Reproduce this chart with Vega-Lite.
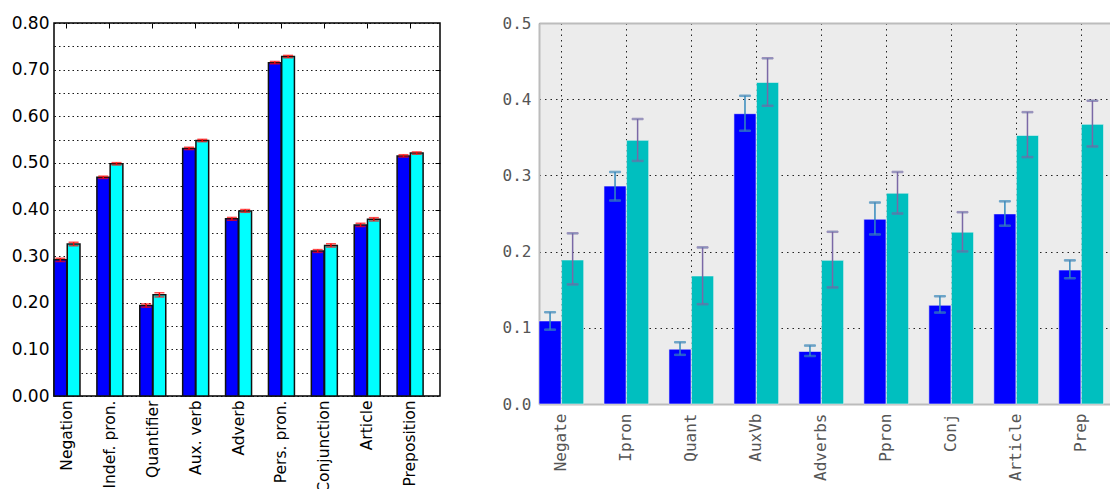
{
  "$schema": "https://vega.github.io/schema/vega-lite/v6.json",
  "padding": {"left": 10, "top": 13, "right": 0, "bottom": 0},
  "background": "white",
  "spacing": 60,
  "resolve": {"scale": {"fill": "independent", "stroke": "independent", "xOffset": "independent"}},
  "datasets": {
    "left": [
      {"cat": "Negation", "series": "A", "value": 0.292, "lo": 0.2885, "hi": 0.2955},
      {"cat": "Negation", "series": "B", "value": 0.326, "lo": 0.3225, "hi": 0.3295},
      {"cat": "Indef. pron.", "series": "A", "value": 0.469, "lo": 0.4665, "hi": 0.4715},
      {"cat": "Indef. pron.", "series": "B", "value": 0.498, "lo": 0.4955, "hi": 0.5005},
      {"cat": "Quantifier", "series": "A", "value": 0.194, "lo": 0.1905, "hi": 0.1975},
      {"cat": "Quantifier", "series": "B", "value": 0.217, "lo": 0.2125, "hi": 0.2215},
      {"cat": "Aux. verb", "series": "A", "value": 0.531, "lo": 0.5285, "hi": 0.5335},
      {"cat": "Aux. verb", "series": "B", "value": 0.548, "lo": 0.5455, "hi": 0.5505},
      {"cat": "Adverb", "series": "A", "value": 0.380, "lo": 0.377, "hi": 0.383},
      {"cat": "Adverb", "series": "B", "value": 0.397, "lo": 0.394, "hi": 0.400},
      {"cat": "Pers. pron.", "series": "A", "value": 0.715, "lo": 0.7125, "hi": 0.7175},
      {"cat": "Pers. pron.", "series": "B", "value": 0.728, "lo": 0.7255, "hi": 0.7305},
      {"cat": "Conjunction", "series": "A", "value": 0.311, "lo": 0.308, "hi": 0.314},
      {"cat": "Conjunction", "series": "B", "value": 0.323, "lo": 0.3195, "hi": 0.3265},
      {"cat": "Article", "series": "A", "value": 0.367, "lo": 0.3635, "hi": 0.3705},
      {"cat": "Article", "series": "B", "value": 0.379, "lo": 0.3755, "hi": 0.3825},
      {"cat": "Preposition", "series": "A", "value": 0.515, "lo": 0.5125, "hi": 0.5175},
      {"cat": "Preposition", "series": "B", "value": 0.521, "lo": 0.5185, "hi": 0.5235}
    ],
    "right": [
      {"cat": "Negate", "series": "A", "value": 0.109, "lo": 0.0976, "hi": 0.1204},
      {"cat": "Negate", "series": "B", "value": 0.189, "lo": 0.157, "hi": 0.224},
      {"cat": "Ipron", "series": "A", "value": 0.286, "lo": 0.267, "hi": 0.3045},
      {"cat": "Ipron", "series": "B", "value": 0.346, "lo": 0.319, "hi": 0.374},
      {"cat": "Quant", "series": "A", "value": 0.072, "lo": 0.0645, "hi": 0.081},
      {"cat": "Quant", "series": "B", "value": 0.168, "lo": 0.131, "hi": 0.2055},
      {"cat": "AuxVb", "series": "A", "value": 0.381, "lo": 0.3586, "hi": 0.4045},
      {"cat": "AuxVb", "series": "B", "value": 0.422, "lo": 0.3914, "hi": 0.4537},
      {"cat": "Adverbs", "series": "A", "value": 0.069, "lo": 0.063, "hi": 0.0767},
      {"cat": "Adverbs", "series": "B", "value": 0.1885, "lo": 0.153, "hi": 0.226},
      {"cat": "Ppron", "series": "A", "value": 0.2425, "lo": 0.2225, "hi": 0.2644},
      {"cat": "Ppron", "series": "B", "value": 0.2766, "lo": 0.25, "hi": 0.3045},
      {"cat": "Conj", "series": "A", "value": 0.1296, "lo": 0.120, "hi": 0.1414},
      {"cat": "Conj", "series": "B", "value": 0.2255, "lo": 0.2003, "hi": 0.2517},
      {"cat": "Article", "series": "A", "value": 0.2495, "lo": 0.234, "hi": 0.266},
      {"cat": "Article", "series": "B", "value": 0.3525, "lo": 0.324, "hi": 0.383},
      {"cat": "Prep", "series": "A", "value": 0.1758, "lo": 0.165, "hi": 0.1885},
      {"cat": "Prep", "series": "B", "value": 0.367, "lo": 0.338, "hi": 0.398}
    ]
  },
  "hconcat": [
    {
      "width": 386,
      "height": 373,
      "data": {"name": "left"},
      "view": {"stroke": "black", "strokeWidth": 1.5, "fill": "white"},
      "layer": [
        {
          "mark": {"type": "bar", "stroke": "#111111", "strokeWidth": 1.5},
          "encoding": {
            "x": {"field": "cat", "type": "nominal", "sort": null,
              "scale": {"paddingInner": 0.394, "paddingOuter": 0.197, "align": 0},
              "axis": {"orient": "bottom", "title": null, "labelAngle": 270, "labelFont": "DejaVu Sans", "labelFontSize": 15.5, "labelColor": "black", "labelPadding": 4, "ticks": false, "domain": false, "grid": false}},
            "xOffset": {"field": "series", "type": "nominal", "sort": null, "scale": {"paddingInner": 0.04}},
            "y": {"field": "value", "type": "quantitative",
              "scale": {"domain": [0, 0.8], "nice": false, "zero": true},
              "axis": {"orient": "left", "title": null, "values": [0, 0.05, 0.1, 0.15, 0.2, 0.25, 0.3, 0.35, 0.4, 0.45, 0.5, 0.55, 0.6, 0.65, 0.7, 0.75, 0.8],
                "labelExpr": "round(datum.value*100) % 10 == 0 ? format(datum.value, '.2f') : ''",
                "labelFont": "DejaVu Sans", "labelFontSize": 17, "labelColor": "black", "labelPadding": 5,
                "ticks": false, "domain": false,
                "grid": true, "gridColor": "black", "gridDash": [1.5, 3], "gridWidth": 1, "gridOpacity": 0.9}},
            "fill": {"field": "series", "type": "nominal", "scale": {"domain": ["A", "B"], "range": ["#0000ff", "#00ffff"]}, "legend": null}
          }
        },
        {
          "mark": {"type": "rule", "color": "#ff0000", "strokeWidth": 1.5},
          "encoding": {
            "x": {"field": "cat", "type": "nominal", "sort": null,
              "axis": {"orient": "top", "title": null, "labels": false, "ticks": true, "tickSize": -5, "tickWidth": 1, "tickColor": "black", "domain": false, "grid": false}},
            "xOffset": {"field": "series", "type": "nominal", "sort": null},
            "y": {"field": "lo", "type": "quantitative",
              "axis": {"orient": "right", "title": null, "labels": false, "values": [0.1, 0.2, 0.3, 0.4, 0.5, 0.6, 0.7], "ticks": true, "tickSize": -5, "tickWidth": 1, "tickColor": "black", "domain": false, "grid": false}},
            "y2": {"field": "hi"}
          }
        },
        {
          "mark": {"type": "tick", "color": "#ff0000", "thickness": 1.5, "size": 10},
          "encoding": {
            "x": {"field": "cat", "type": "nominal", "sort": null, "axis": null},
            "xOffset": {"field": "series", "type": "nominal", "sort": null},
            "y": {"field": "hi", "type": "quantitative", "axis": null}
          }
        },
        {
          "mark": {"type": "tick", "color": "#ff0000", "thickness": 1.5, "size": 10},
          "encoding": {
            "x": {"field": "cat", "type": "nominal", "sort": null, "axis": null},
            "xOffset": {"field": "series", "type": "nominal", "sort": null},
            "y": {"field": "lo", "type": "quantitative", "axis": null}
          }
        }
      ]
    },
    {
      "width": 571,
      "height": 381,
      "data": {"name": "right"},
      "view": {"stroke": null, "fill": "#ececec"},
      "layer": [
        {
          "mark": {"type": "bar", "stroke": "#eeeeee", "strokeWidth": 0.6},
          "encoding": {
            "x": {"field": "cat", "type": "nominal", "sort": null,
              "scale": {"paddingInner": 0.312, "paddingOuter": 0.05, "align": 0},
              "axis": {"orient": "bottom", "title": null, "labelAngle": 270, "labelFont": "DejaVu Sans Mono", "labelFontSize": 16, "labelColor": "#555555", "labelPadding": 9, "ticks": false,
                "domain": true, "domainColor": "#bcbcbc", "domainWidth": 2,
                "grid": true, "gridColor": "black", "gridDash": [1.5, 4], "gridWidth": 1, "gridOpacity": 0.85}},
            "xOffset": {"field": "series", "type": "nominal", "sort": null, "scale": {"paddingInner": 0.02}},
            "y": {"field": "value", "type": "quantitative",
              "scale": {"domain": [0, 0.5], "nice": false, "zero": true},
              "axis": {"orient": "left", "title": null, "values": [0, 0.1, 0.2, 0.3, 0.4, 0.5], "format": ".1f",
                "labelFont": "DejaVu Sans Mono", "labelFontSize": 16, "labelColor": "#555555", "labelPadding": 8,
                "ticks": false, "domain": true, "domainColor": "#bcbcbc", "domainWidth": 2,
                "grid": true, "gridColor": "black", "gridDash": [1.5, 4], "gridWidth": 1, "gridOpacity": 0.85}},
            "fill": {"field": "series", "type": "nominal", "scale": {"domain": ["A", "B"], "range": ["#0000ff", "#00bfbf"]}, "legend": null}
          }
        },
        {
          "mark": {"type": "rule", "strokeWidth": 1.5},
          "encoding": {
            "x": {"field": "cat", "type": "nominal", "sort": null,
              "axis": {"orient": "top", "title": null, "labels": false, "ticks": false, "domain": true, "domainColor": "#bcbcbc", "domainWidth": 2, "grid": false}},
            "xOffset": {"field": "series", "type": "nominal", "sort": null},
            "y": {"field": "lo", "type": "quantitative",
              "axis": {"orient": "right", "title": null, "labels": false, "ticks": false, "domain": false, "grid": false}},
            "y2": {"field": "hi"},
            "stroke": {"field": "series", "type": "nominal", "scale": {"domain": ["A", "B"], "range": ["#348abd", "#7a68a6"]}, "legend": null}
          }
        },
        {
          "mark": {"type": "tick", "thickness": 1.5, "size": 11},
          "encoding": {
            "x": {"field": "cat", "type": "nominal", "sort": null, "axis": null},
            "xOffset": {"field": "series", "type": "nominal", "sort": null},
            "y": {"field": "hi", "type": "quantitative", "axis": null},
            "stroke": {"field": "series", "type": "nominal", "legend": null}
          }
        },
        {
          "mark": {"type": "tick", "thickness": 1.5, "size": 11},
          "encoding": {
            "x": {"field": "cat", "type": "nominal", "sort": null, "axis": null},
            "xOffset": {"field": "series", "type": "nominal", "sort": null},
            "y": {"field": "lo", "type": "quantitative", "axis": null},
            "stroke": {"field": "series", "type": "nominal", "legend": null}
          }
        }
      ]
    }
  ]
}
